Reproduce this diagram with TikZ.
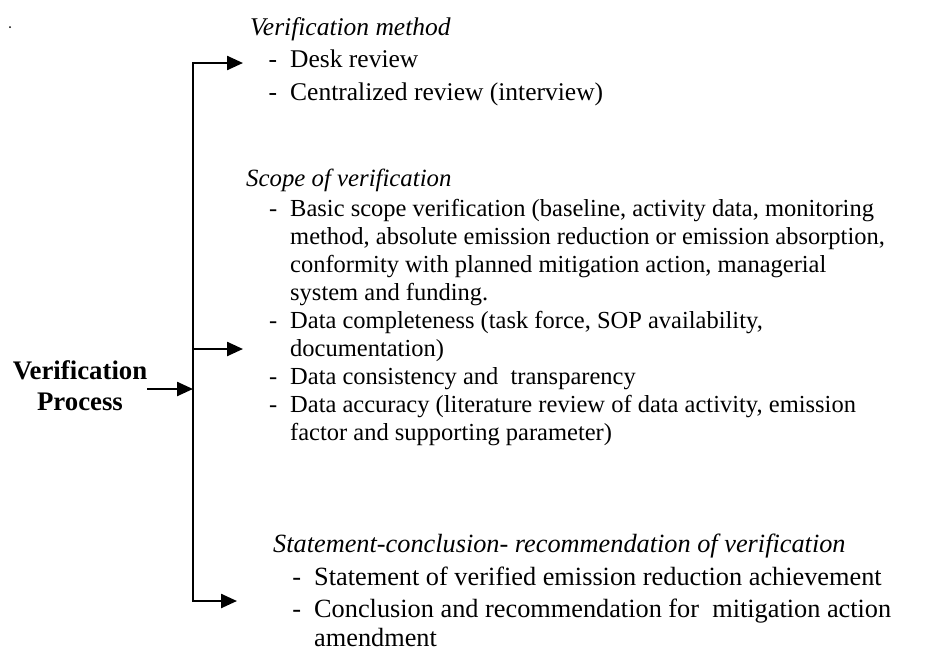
\documentclass[tikz,border=0pt]{standalone}
\usepackage{fontspec}
\setmainfont{Liberation Serif}
\usetikzlibrary{arrows.meta}
\begin{document}
\begin{tikzpicture}[x=1pt,y=-1pt,
  txt/.style={anchor=base west, inner sep=0pt, font=\fontsize{#1}{28}\selectfont},
  head/.style={anchor=base west, inner sep=0pt, font=\fontsize{#1}{28}\selectfont\itshape},
  conn/.style={line width=2.4pt, -{Triangle[length=16pt,width=14pt]}},
  spine/.style={line width=2.4pt, line cap=rect},
]
\useasboundingbox (0,0) rectangle (950,656);
\newcommand{\dsh}{\llap{-\hspace{13pt}}}
% stray dot
\fill (10,27) circle (1);
% process node
\node[inner sep=0pt, align=center, font=\fontsize{26.8}{31}\selectfont\bfseries] (proc) at (80,386) {Verification\\Process};
% spine coordinates
\coordinate (j1) at (193,63);
\coordinate (j2) at (193,349);
\coordinate (j3) at (193,601);
\coordinate (e1) at (243,63);
\coordinate (e2) at (243,349);
\coordinate (e3) at (237,601);
\draw[spine] (j1) -- (j3);
\draw[conn] (j1) -- (e1);
\draw[conn] (j2) -- (e2);
\draw[conn] (j3) -- (e3);
\draw[conn] (proc.east |- 0,389) -- (193,389);
% block 1
\node[head=25.5] (m0) at (250,35) {Verification method};
\node[txt=25.5] (m1) at (290,67) {\dsh Desk review};
\node[txt=25.5] (m2) at (290,100) {\dsh Centralized review (interview)};
% block 2
\node[head=24.8] (s0) at (246,186) {Scope of verification};
\node[txt=24.5] (s1) at (290,216) {\dsh Basic scope verification (baseline, activity data, monitoring};
\node[txt=24.5] (s2) at (290,244) {method, absolute emission reduction or emission absorption,};
\node[txt=24.5] (s3) at (290,272) {conformity with planned mitigation action, managerial};
\node[txt=24.5] (s4) at (290,300) {system and funding.};
\node[txt=24.5] (s5) at (290,328) {\dsh Data completeness (task force, SOP availability,};
\node[txt=24.5] (s6) at (290,356) {documentation)};
\node[txt=24.5] (s7) at (290,384) {\dsh Data consistency and\ \ transparency};
\node[txt=24.5] (s8) at (290,412) {\dsh Data accuracy (literature review of data activity, emission};
\node[txt=24.5] (s9) at (290,440) {factor and supporting parameter)};
% block 3
\node[head=26.3] (c0) at (273,552) {Statement-conclusion- recommendation of verification};
\node[txt=26.3] (c1) at (314,585) {\dsh Statement of verified emission reduction achievement};
\node[txt=26.3] (c2) at (314,617) {\dsh Conclusion and recommendation for\ \ mitigation action};
\node[txt=26.3] (c3) at (314,646) {amendment};
\end{tikzpicture}
\end{document}
